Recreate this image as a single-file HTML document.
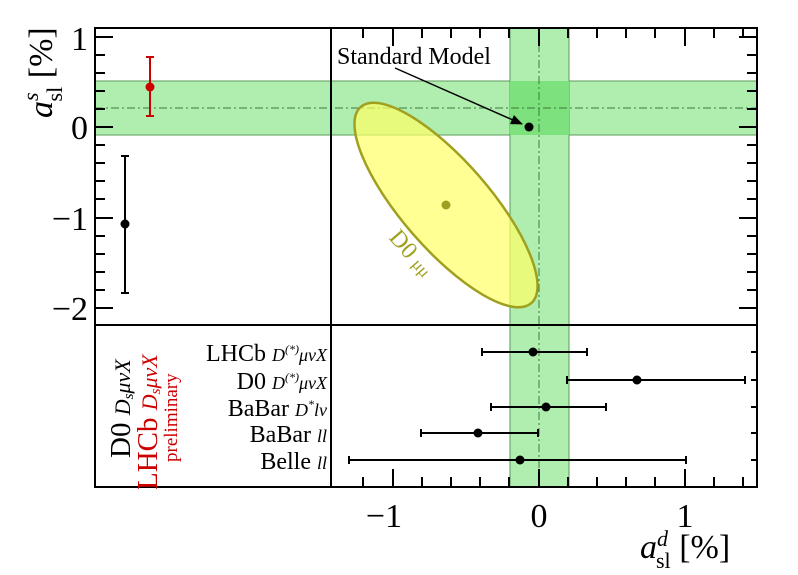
<!DOCTYPE html>
<html><head><meta charset="utf-8"><style>
html,body{margin:0;padding:0;background:#fff;}
svg{display:block;font-family:"Liberation Serif",serif;}
</style></head><body>
<svg width="798" height="575" viewBox="0 0 798 575" xmlns="http://www.w3.org/2000/svg">
<defs><marker id="ah" markerWidth="12" markerHeight="10" refX="11" refY="5" orient="auto" markerUnits="userSpaceOnUse"><path d="M0,0 L12,5 L0,10 z" fill="#000"/></marker></defs>
<rect x="95" y="81" width="662" height="54" fill="#b0eeb0" stroke="#5a9a5a" stroke-width="1"/>
<rect x="510" y="28" width="59" height="459" fill="#b0eeb0" stroke="#5a9a5a" stroke-width="1"/>
<rect x="510" y="81" width="59" height="54" fill="#7de27d"/>
<line x1="95" y1="108" x2="757" y2="108" stroke="#3a7a3a" stroke-width="1" stroke-dasharray="8,3,2,3"/>
<line x1="539" y1="28" x2="539" y2="487" stroke="#3a7a3a" stroke-width="1" stroke-dasharray="8,3,2,3"/>
<ellipse cx="446" cy="205" rx="130" ry="44" transform="rotate(49 446 205)" fill="#ffff66" fill-opacity="0.7" stroke="#a0a020" stroke-width="2.5"/>
<circle cx="446" cy="205" r="4.5" fill="#a0a020"/>
<text x="0" y="0" font-size="24" fill="#a0a020" transform="translate(388,238) rotate(49)">D0 <tspan font-size="17">μμ</tspan></text>
<circle cx="529" cy="127" r="4.5" fill="#000"/>
<line x1="395" y1="68" x2="522" y2="124" stroke="#000" stroke-width="1.5" marker-end="url(#ah)"/>
<text x="337" y="64" font-size="24">Standard Model</text>
<rect x="95" y="28" width="662" height="459" fill="none" stroke="#000" stroke-width="2"/>
<line x1="331" y1="28" x2="331" y2="487" stroke="#000" stroke-width="2"/>
<line x1="95" y1="325" x2="757" y2="325" stroke="#000" stroke-width="2"/>
<g stroke="#000" stroke-width="2">
<path d="M95,37h18M95,127h18M95,218h18M95,308h18"/>
<path d="M95,55h10M95,73h10M95,91h10M95,109h10M95,145h10M95,163h10M95,181h10M95,199h10M95,236h10M95,254h10M95,272h10M95,290h10"/>
<path d="M757,37h-18M757,127h-18M757,218h-18M757,308h-18"/>
<path d="M757,55h-10M757,73h-10M757,91h-10M757,109h-10M757,145h-10M757,163h-10M757,181h-10M757,199h-10M757,236h-10M757,254h-10M757,272h-10M757,290h-10"/>
<path d="M393,487v-18M539,487v-18M685,487v-18"/>
<path d="M363,487v-10M422,487v-10M451,487v-10M480,487v-10M509,487v-10M568,487v-10M597,487v-10M626,487v-10M655,487v-10M714,487v-10M743,487v-10"/>
<path d="M393,28v18M539,28v18M685,28v18"/>
<path d="M363,28v10M422,28v10M451,28v10M480,28v10M509,28v10M568,28v10M597,28v10M626,28v10M655,28v10M714,28v10M743,28v10"/>
<path d="M757,352h-6M757,380h-6M757,407h-6M757,433h-6M757,460h-6"/>
</g>
<g font-size="34" text-anchor="end">
<text x="88" y="50">1</text><text x="88" y="139">0</text><text x="88" y="230">−1</text><text x="88" y="320">−2</text>
</g>
<text font-size="34" transform="translate(52,118) rotate(-90)"><tspan font-style="italic">a</tspan><tspan font-size="22" font-style="italic" dy="-14">s</tspan><tspan font-size="22" dx="-9" dy="24">sl</tspan><tspan dy="-10"> [%]</tspan></text>
<g font-size="34" text-anchor="middle">
<text x="384" y="527">−1</text><text x="539" y="527">0</text><text x="685" y="527">1</text>
</g>
<text font-size="34" x="640" y="558"><tspan font-style="italic">a</tspan><tspan font-size="22" font-style="italic" dy="-12">d</tspan><tspan font-size="22" dx="-12" dy="22">sl</tspan><tspan dy="-10"> [%]</tspan></text>
<g stroke="#000" stroke-width="2"><path d="M125,156V293M121,156h8M121,293h8"/></g>
<circle cx="125" cy="224" r="4.5" fill="#000"/>
<g stroke="#c00" stroke-width="2"><path d="M150,57V116M146,57h8M146,116h8"/></g>
<circle cx="150" cy="87" r="4.5" fill="#c00"/>
<text font-size="29" transform="translate(130,458) rotate(-90)">D0 <tspan font-style="italic" font-size="22">D<tspan font-size="15" dy="3">s</tspan><tspan dy="-3">μνX</tspan></tspan></text>
<text font-size="29" fill="#c00" transform="translate(157,490) rotate(-90)">LHCb <tspan font-style="italic" font-size="22">D<tspan font-size="15" dy="3">s</tspan><tspan dy="-3">μνX</tspan></tspan></text>
<text font-size="19" fill="#c00" transform="translate(177,462) rotate(-90)">preliminary</text>
<g font-size="24" text-anchor="end">
<text x="327" y="361">LHCb <tspan font-style="italic" font-size="18">D<tspan font-size="12" dy="-8">(*)</tspan><tspan dy="8">μνX</tspan></tspan></text>
<text x="327" y="389">D0  <tspan font-style="italic" font-size="18">D<tspan font-size="12" dy="-8">(*)</tspan><tspan dy="8">μνX</tspan></tspan></text>
<text x="327" y="416">BaBar <tspan font-style="italic" font-size="18">D<tspan font-size="12" dy="-8">*</tspan><tspan dy="8">lν</tspan></tspan></text>
<text x="327" y="442">BaBar <tspan font-style="italic" font-size="18">ll</tspan></text>
<text x="327" y="469">Belle <tspan font-style="italic" font-size="18">ll</tspan></text>
</g>
<g stroke="#000" stroke-width="2">
<path d="M482,352H587M482,348v8M587,348v8"/>
<path d="M567,380H745M567,376v8M745,376v8"/>
<path d="M491,407H606M491,403v8M606,403v8"/>
<path d="M421,433H538M421,429v8M538,429v8"/>
<path d="M349,460H686M349,456v8M686,456v8"/>
</g>
<g fill="#000">
<circle cx="533" cy="352" r="4.5"/><circle cx="637" cy="380" r="4.5"/><circle cx="546" cy="407" r="4.5"/><circle cx="478" cy="433" r="4.5"/><circle cx="520" cy="460" r="4.5"/>
</g>
</svg>
</body></html>
